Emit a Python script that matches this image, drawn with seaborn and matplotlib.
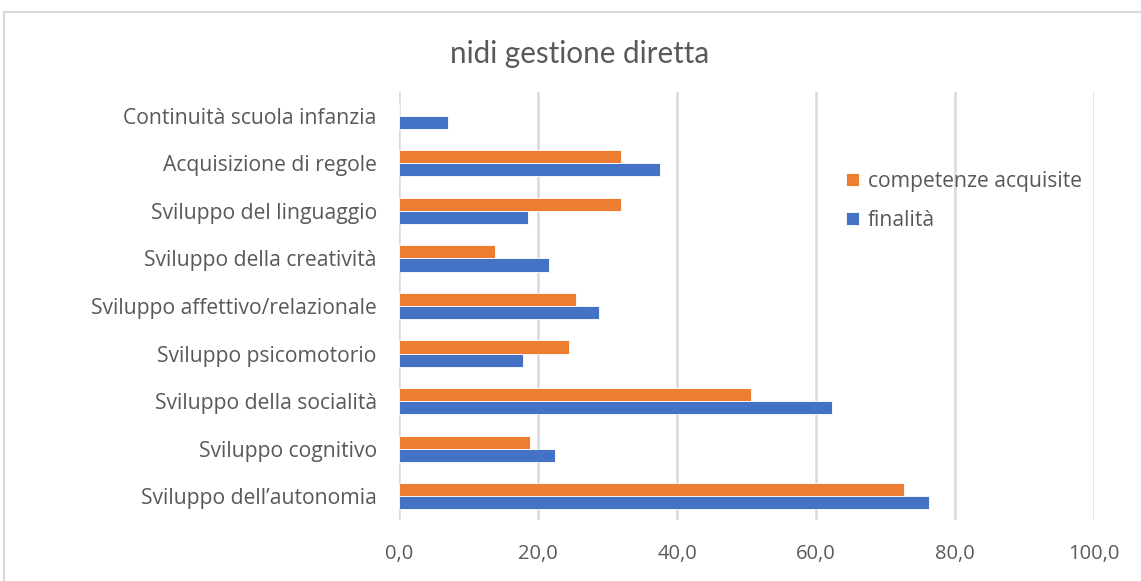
import pandas as pd
import matplotlib.pyplot as plt
import seaborn as sns
from matplotlib.patches import Rectangle

# Data
categories = [
    "Continuità scuola infanzia",
    "Acquisizione di regole",
    "Sviluppo del linguaggio",
    "Sviluppo della creatività",
    "Sviluppo affettivo/relazionale",
    "Sviluppo psicomotorio",
    "Sviluppo della socialità",
    "Sviluppo cognitivo",
    "Sviluppo dell\u2019autonomia",
]
competenze = [0.0, 31.9, 32.0, 13.8, 25.5, 24.4, 50.6, 18.8, 72.7]
finalita = [7.0, 37.5, 18.6, 21.6, 28.8, 17.8, 62.3, 22.5, 76.3]
series = ["competenze acquisite", "finalità"]
xticks = [0, 20, 40, 60, 80, 100]

df = pd.DataFrame({
    "categoria": categories * 2,
    "valore": competenze + finalita,
    "serie": [series[0]] * len(categories) + [series[1]] * len(categories),
})

sns.set_style("white")
plt.rcParams["font.family"] = ["Open Sans", "DejaVu Sans"]
txt = "#595959"
grid = "#D9D9D9"

fig = plt.figure(figsize=(11.41, 5.81), dpi=100)
ax = fig.add_axes([0.3497, 0.105, 0.6091, 0.7367])

sns.barplot(data=df, y="categoria", x="valore", hue="serie", hue_order=series,
            order=categories, palette=["#ED7D31", "#4472C4"], orient="h",
            saturation=1, width=0.55, edgecolor="white", linewidth=0.6, ax=ax)

ax.set_xlim(0, 100)
ax.set_ylim(len(categories) - 0.5, -0.5)
ax.set_xticks(xticks)
ax.set_xticklabels([f"{v:.1f}".replace(".", ",") for v in xticks], color=txt, fontsize=14.5)
ax.tick_params(axis="y", labelsize=15.2, labelcolor=txt, length=0, pad=16)
ax.tick_params(axis="x", length=0, pad=17)
ax.set_xlabel("")
ax.set_ylabel("")
ax.xaxis.grid(True, color=grid, linewidth=1.8)
ax.set_axisbelow(True)
for s in ax.spines.values():
    s.set_visible(False)

leg = ax.legend(loc="upper left", bbox_to_anchor=(0.643, 0.815), frameon=False,
                fontsize=15.2, handlelength=0.6, handleheight=0.6,
                handletextpad=0.45, labelspacing=0.85, borderpad=0,
                borderaxespad=0)
for t in leg.get_texts():
    t.set_color(txt)

fig.text(0.508, 0.907, "nidi gestione diretta", ha="center", va="center",
         fontsize=21.3, color=txt, family=["Lato", "DejaVu Sans"])

fig.patches.append(Rectangle((4 / 1141, -0.05), 1.2, 1 - 12 / 581 + 0.05,
                             transform=fig.transFigure, fill=False,
                             edgecolor=grid, linewidth=1.5))

fig.savefig("out.png", dpi=100)
